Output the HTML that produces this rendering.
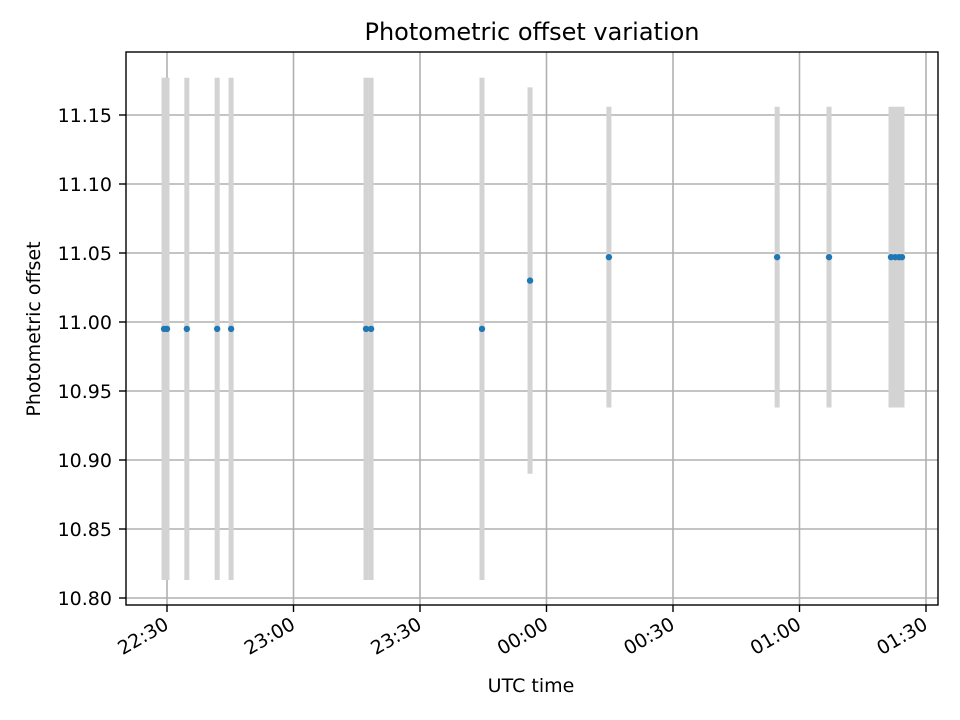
<!DOCTYPE html>
<html><head><meta charset="utf-8"><style>
body{margin:0;background:#fff;}
svg{display:block;font-family:"DejaVu Sans","Liberation Sans",sans-serif;}
</style></head><body>
<svg id="chart" width="960" height="720" viewBox="0 0 960 720">
<rect width="960" height="720" fill="#fff"/>
<g id="grid"></g>
<g id="errs"></g>
<g id="pts"></g>
<rect x="126" y="52" width="812" height="553" fill="none" stroke="#000" stroke-width="1.4"/>
<g id="axes"></g>
<text x="532" y="40" text-anchor="middle" font-size="24">Photometric offset variation</text>
<text x="531" y="692" text-anchor="middle" font-size="19">UTC time</text>
<text transform="translate(40,329) rotate(-90)" text-anchor="middle" font-size="19">Photometric offset</text>
</svg>
<script>
// minutes after 22:30 UTC
const times=[-0.7,0,4.7,11.9,15.2,47.2,48.4,74.7,86.1,104.8,144.7,157,171.7,172.7,173.6,174.3];
const values=[10.995,10.995,10.995,10.995,10.995,10.995,10.995,10.995,11.03,11.047,11.047,11.047,11.047,11.047,11.047,11.047];
const errors=[0.182,0.182,0.182,0.182,0.182,0.182,0.182,0.182,0.14,0.109,0.109,0.109,0.109,0.109,0.109,0.109];
const yTicks=[10.80,10.85,10.90,10.95,11.00,11.05,11.10,11.15];
const xTickMins=[0,30,60,90,120,150,180];
const xTickLabels=["22:30","23:00","23:30","00:00","00:30","01:00","01:30"];
const NS="http://www.w3.org/2000/svg";
const X=m=>167+m*126.5/30;
const Y=v=>598-(v-10.80)/0.05*69;
function mk(tag,attrs,parent){const e=document.createElementNS(NS,tag);for(const k in attrs)e.setAttribute(k,attrs[k]);parent.appendChild(e);return e;}
const grid=document.getElementById('grid'),axes=document.getElementById('axes'),errs=document.getElementById('errs'),pts=document.getElementById('pts');
yTicks.forEach(v=>{
 const g=mk('line',{x1:126,x2:938,y1:Y(v),y2:Y(v),stroke:'#b0b0b0','stroke-width':1.6},grid);
 
 
 mk('line',{x1:119,x2:126,y1:Y(v),y2:Y(v),stroke:'#000','stroke-width':1.4},axes);
 const t=mk('text',{x:112,y:Y(v)+7,'text-anchor':'end','font-size':19},axes);
 t.textContent=v.toFixed(2);
 
 
});
xTickMins.forEach((m,i)=>{
 const g=mk('line',{x1:X(m),x2:X(m),y1:52,y2:605,stroke:'#b0b0b0','stroke-width':1.6},grid);
 
 
 mk('line',{x1:X(m),x2:X(m),y1:605,y2:612,stroke:'#000','stroke-width':1.4},axes);
 const t=mk('text',{transform:`translate(${X(m)+3},${628}) rotate(-30)`,'text-anchor':'end','font-size':19},axes);
 t.textContent=xTickLabels[i];
 
 
});
times.forEach((m,i)=>{
 const e=mk('line',{x1:X(m),x2:X(m),y1:Y(values[i]+errors[i]),y2:Y(values[i]-errors[i]),stroke:'#d3d3d3','stroke-width':5},errs);
 
 
});
times.forEach((m,i)=>{
 const p=mk('circle',{cx:X(m),cy:Y(values[i]),r:3.2,fill:'#1f77b4'},pts);
 
 
});
</script>
</body></html>
